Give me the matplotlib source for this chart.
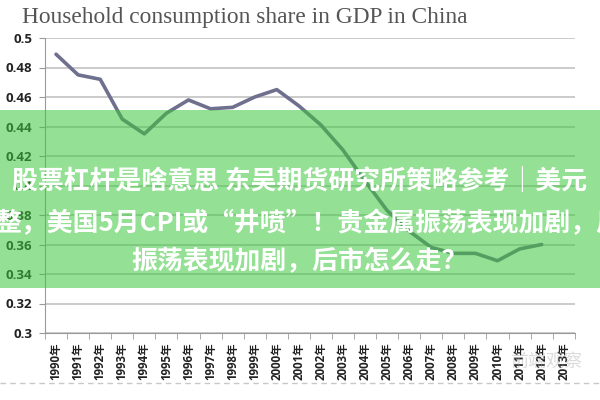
import matplotlib
matplotlib.use('Agg')
import matplotlib.pyplot as plt
from matplotlib.patches import Rectangle
from matplotlib.lines import Line2D

# Chart data
year_labels = [f'{y}年' for y in range(1990, 2014)]
share = [0.489, 0.475, 0.472, 0.445, 0.435, 0.449, 0.458, 0.452, 0.453, 0.460,
         0.465, 0.454, 0.441, 0.424, 0.403, 0.383, 0.369, 0.358, 0.354, 0.354,
         0.349, 0.357, 0.360]
y_ticks = [0.30, 0.32, 0.34, 0.36, 0.38, 0.40, 0.42, 0.44, 0.46, 0.48, 0.50]
y_tick_labels = ['0.3', '0.32', '0.34', '0.36', '0.38', '0.4', '0.42', '0.44', '0.46', '0.48', '0.5']

title = 'Household consumption share in GDP in China'
banner_lines = ['股票杠杆是啥意思 东吴期货研究所策略参考｜美元',
                '整，美国5月CPI或“井喷”！贵金属振荡表现加剧，后',
                '振荡表现加剧，后市怎么走？']

fig = plt.figure(figsize=(6, 4), dpi=100)
ax = fig.add_axes([0.075, 0.1675, 0.883, 0.7375])

ax.plot(range(len(share)), share, color='#6f6f8e', linewidth=2.6,
        solid_capstyle='round', zorder=3)

ax.set_xlim(-0.5, len(year_labels) - 0.5)
ax.set_ylim(0.3, 0.5)
ax.set_yticks(y_ticks)
ax.set_yticklabels(y_tick_labels, fontsize=9.5, fontweight='bold',
                   family=['Open Sans', 'DejaVu Sans'], color='#222222')
ax.yaxis.grid(True, color='#bdbdbd', linewidth=1.1)
ax.set_axisbelow(True)

ax.set_xticks(range(len(year_labels)))
ax.set_xticklabels(year_labels, rotation=90, fontsize=8.3, fontweight='bold',
                   family=['Open Sans', 'Noto Sans CJK SC'], color='#222222')
ax.set_xticks([i - 0.5 for i in range(len(year_labels) + 1)], minor=True)
ax.tick_params(axis='x', which='major', length=0, pad=7)
ax.tick_params(axis='x', which='minor', length=4, color='#9a9a9a')
ax.tick_params(axis='y', length=4, color='#9a9a9a', pad=5)

for s in ['top', 'right']:
    ax.spines[s].set_visible(False)
for s in ['left', 'bottom']:
    ax.spines[s].set_color('#9a9a9a')

fig.text(0.037, 0.955, title, family='Liberation Serif', fontsize=16.8,
         color='#555555', va='center', ha='left')

# dashed separator and faint watermark
fig.add_artist(Line2D([0, 1], [0.043, 0.043], transform=fig.transFigure,
                      color='#c8c8c8', linewidth=1, linestyle=(0, (4, 3))))
fig.text(0.91, 0.095, '前端观察', family='Noto Sans CJK SC', fontsize=13,
         color='#b0b0b0', alpha=0.45, ha='center', va='center')

# green banner overlay
fig.add_artist(Rectangle((0, 0.28), 1, 0.445, transform=fig.transFigure,
                         facecolor='#3cc83c', alpha=0.55, edgecolor='none',
                         zorder=5))
for txt, x, y in zip(banner_lines, [0.5, 0.514, 0.5], [0.545, 0.44, 0.345]):
    fig.text(x, y, txt, family=['Noto Sans CJK SC', 'DejaVu Sans'],
             fontsize=18.6, fontweight='bold', color='white',
             ha='center', va='center', zorder=6)

fig.savefig('out.png', dpi=100)
